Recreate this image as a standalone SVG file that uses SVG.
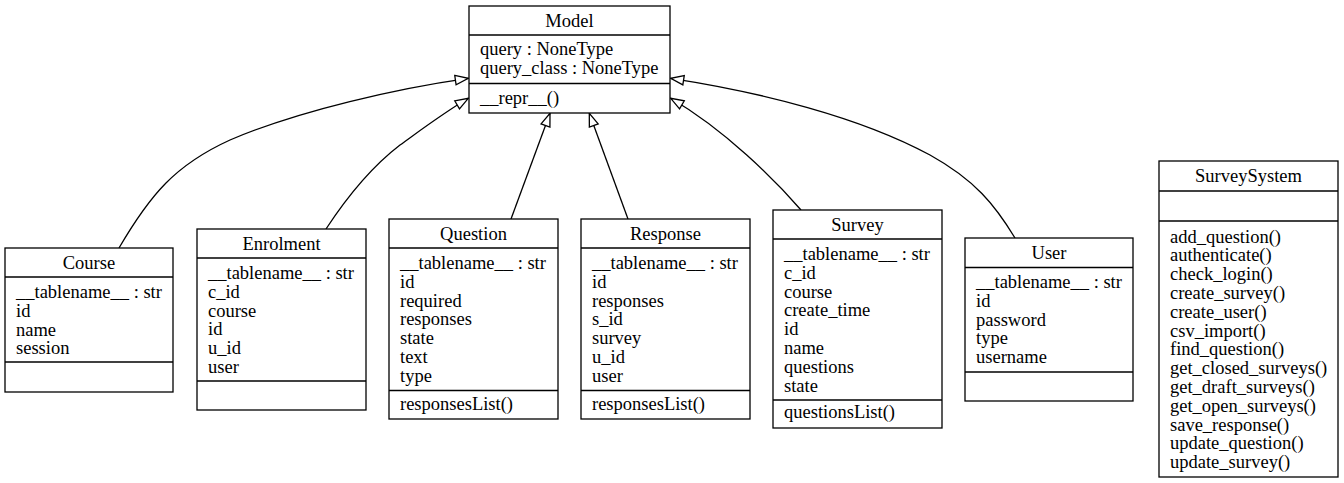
<svg xmlns="http://www.w3.org/2000/svg" width="1344" height="483" viewBox="0 0 1344 483">
<style>
.box{fill:#fff;stroke:#000;stroke-width:1.3}
.div{stroke:#000;stroke-width:1.3}
text{font-family:"Liberation Serif","Times New Roman",serif;font-size:18.5px;fill:#000}
.c{text-anchor:middle}
.edge{fill:none;stroke:#000;stroke-width:1.3}
</style>
<defs>
<marker id="inh" markerUnits="userSpaceOnUse" markerWidth="16" markerHeight="12" refX="13" refY="5" orient="auto" overflow="visible">
<path d="M0,0.3 L13,5 L0,9.7 Z" fill="#fff" stroke="#000" stroke-width="1.3"/>
</marker>
</defs>
<rect width="1344" height="483" fill="#fff"/>
<g id="connectors">
<path class="edge" marker-end="url(#inh)" d="M119,248 C150,195 175,165 230,140 C300,110 400,88 468.3,78.3"/>
<path class="edge" marker-end="url(#inh)" d="M326,229 C345,200 370,168 400,145 C425,127 445,112 468.3,98.3"/>
<path class="edge" marker-end="url(#inh)" d="M511,219 L550,113.3"/>
<path class="edge" marker-end="url(#inh)" d="M628,219 L589.3,113.3"/>
<path class="edge" marker-end="url(#inh)" d="M801,210 C775,180 725,130 670.7,98.3"/>
<path class="edge" marker-end="url(#inh)" d="M1015,238 C995,205 975,180 930,155 C860,117 760,92 670.7,78.3"/>
</g>
<g id="Model">
<rect class="box" x="469" y="6" width="201" height="107"/>
<line class="div" x1="469" y1="35" x2="670" y2="35"/>
<line class="div" x1="469" y1="83.5" x2="670" y2="83.5"/>
<text class="c" x="569.5" y="27">Model</text>
<text x="480" y="55">query : NoneType</text>
<text x="480" y="74">query_class : NoneType</text>
<text x="480" y="104">__repr__()</text>
</g>
<g id="Course">
<rect class="box" x="5" y="248" width="168" height="144"/>
<line class="div" x1="5" y1="277" x2="173" y2="277"/>
<line class="div" x1="5" y1="362" x2="173" y2="362"/>
<text class="c" x="89" y="269">Course</text>
<text x="16" y="298">__tablename__ : str</text>
<text x="16" y="316.8">id</text>
<text x="16" y="335.6">name</text>
<text x="16" y="354.4">session</text>
</g>
<g id="Enrolment">
<rect class="box" x="197" y="229" width="169" height="181"/>
<line class="div" x1="197" y1="258" x2="366" y2="258"/>
<line class="div" x1="197" y1="381" x2="366" y2="381"/>
<text class="c" x="281.5" y="250">Enrolment</text>
<text x="208" y="279">__tablename__ : str</text>
<text x="208" y="297.8">c_id</text>
<text x="208" y="316.6">course</text>
<text x="208" y="335.4">id</text>
<text x="208" y="354.2">u_id</text>
<text x="208" y="373">user</text>
</g>
<g id="Question">
<rect class="box" x="389" y="219" width="169" height="200"/>
<line class="div" x1="389" y1="248" x2="558" y2="248"/>
<line class="div" x1="389" y1="390.5" x2="558" y2="390.5"/>
<text class="c" x="473.5" y="240">Question</text>
<text x="400" y="269">__tablename__ : str</text>
<text x="400" y="287.8">id</text>
<text x="400" y="306.6">required</text>
<text x="400" y="325.4">responses</text>
<text x="400" y="344.2">state</text>
<text x="400" y="363">text</text>
<text x="400" y="381.8">type</text>
<text x="400" y="410">responsesList()</text>
</g>
<g id="Response">
<rect class="box" x="581" y="219" width="169" height="200"/>
<line class="div" x1="581" y1="248" x2="750" y2="248"/>
<line class="div" x1="581" y1="390.5" x2="750" y2="390.5"/>
<text class="c" x="665.5" y="240">Response</text>
<text x="592" y="269">__tablename__ : str</text>
<text x="592" y="287.8">id</text>
<text x="592" y="306.6">responses</text>
<text x="592" y="325.4">s_id</text>
<text x="592" y="344.2">survey</text>
<text x="592" y="363">u_id</text>
<text x="592" y="381.8">user</text>
<text x="592" y="410">responsesList()</text>
</g>
<g id="Survey">
<rect class="box" x="773" y="210" width="169" height="218"/>
<line class="div" x1="773" y1="239" x2="942" y2="239"/>
<line class="div" x1="773" y1="400" x2="942" y2="400"/>
<text class="c" x="857.5" y="231">Survey</text>
<text x="784" y="260">__tablename__ : str</text>
<text x="784" y="278.8">c_id</text>
<text x="784" y="297.6">course</text>
<text x="784" y="316.4">create_time</text>
<text x="784" y="335.2">id</text>
<text x="784" y="354">name</text>
<text x="784" y="372.8">questions</text>
<text x="784" y="391.6">state</text>
<text x="784" y="418">questionsList()</text>
</g>
<g id="User">
<rect class="box" x="965" y="238" width="168" height="163"/>
<line class="div" x1="965" y1="267.5" x2="1133" y2="267.5"/>
<line class="div" x1="965" y1="372" x2="1133" y2="372"/>
<text class="c" x="1049" y="259">User</text>
<text x="976" y="288">__tablename__ : str</text>
<text x="976" y="306.8">id</text>
<text x="976" y="325.6">password</text>
<text x="976" y="344.4">type</text>
<text x="976" y="363.2">username</text>
</g>
<g id="SurveySystem">
<rect class="box" x="1159" y="161" width="179" height="316"/>
<line class="div" x1="1159" y1="191" x2="1338" y2="191"/>
<line class="div" x1="1159" y1="221" x2="1338" y2="221"/>
<text class="c" x="1248.5" y="182">SurveySystem</text>
<text x="1170" y="242.5">add_question()</text>
<text x="1170" y="261.3">authenticate()</text>
<text x="1170" y="280.1">check_login()</text>
<text x="1170" y="298.9">create_survey()</text>
<text x="1170" y="317.7">create_user()</text>
<text x="1170" y="336.5">csv_import()</text>
<text x="1170" y="355.3">find_question()</text>
<text x="1170" y="374.1">get_closed_surveys()</text>
<text x="1170" y="392.9">get_draft_surveys()</text>
<text x="1170" y="411.7">get_open_surveys()</text>
<text x="1170" y="430.5">save_response()</text>
<text x="1170" y="449.3">update_question()</text>
<text x="1170" y="468.1">update_survey()</text>
</g>
</svg>
